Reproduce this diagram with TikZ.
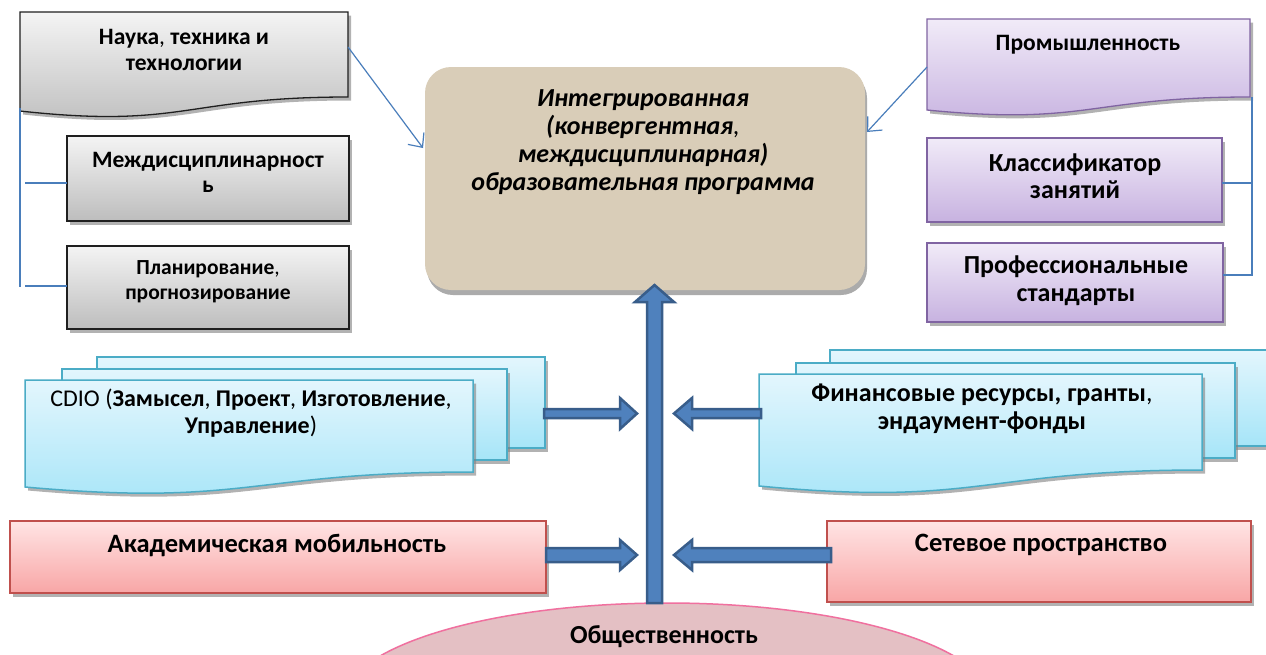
\documentclass[tikz,border=0pt]{standalone}
\usepackage{fontspec}
\setmainfont{Carlito}
\usetikzlibrary{arrows.meta,shadows}
\definecolor{linkblue}{HTML}{4A7EBB}
\definecolor{arrowfill}{HTML}{4F81BD}
\definecolor{arrowdark}{HTML}{385D8A}
\definecolor{grayline}{HTML}{1F1F1F}
\definecolor{graytop}{HTML}{F4F4F4}
\definecolor{graybot}{HTML}{BDBDBD}
\definecolor{purpline}{HTML}{8064A2}
\definecolor{purptop}{HTML}{F1EBF8}
\definecolor{purpbot}{HTML}{C7B2E0}
\definecolor{aqualine}{HTML}{4BACC6}
\definecolor{aquatop}{HTML}{E3F6FD}
\definecolor{aquabot}{HTML}{A6E5F8}
\definecolor{redline}{HTML}{C0504D}
\definecolor{redtop}{HTML}{FFE4E4}
\definecolor{redbot}{HTML}{F8A6A6}
\definecolor{beige}{HTML}{D9CDB8}
\definecolor{pinkfill}{HTML}{E4C0C4}
\definecolor{pinkline}{HTML}{F0709F}
\begin{document}
\begin{tikzpicture}[x=1pt,y=-1pt,
  shad/.style={drop shadow={shadow xshift=3pt,shadow yshift=-3.5pt,fill=black!50,opacity=.6}},
  graybox/.style={draw=grayline,line width=1.3pt,top color=graytop,bottom color=graybot,shad},
  purpbox/.style={draw=purpline,line width=1.3pt,top color=purptop,bottom color=purpbot,shad},
  aquabox/.style={draw=aqualine,line width=1.5pt,top color=aquatop,bottom color=aquabot,shad},
  redbox/.style={draw=redline,line width=1.3pt,top color=redtop,bottom color=redbot,shad},
  lbl/.style={font=\bfseries\fontsize{#1}{27}\selectfont,align=center,inner sep=0pt},
  link/.style={draw=linkblue,line width=1.2pt},
  linkarrow/.style={link,-{Straight Barb[length=11pt,width=20pt,line width=1.2pt]}},
  blockarrow/.style={fill=arrowfill,draw=arrowdark,line width=2.5pt,line join=miter}
]
\useasboundingbox[fill=white] (0,0) rectangle (1266,654);

% ---------- left gray group ----------
\path[graybox] (20,12) -- (348,12) -- (348,97) .. controls (184,97) and (184,129) .. (20,111) -- cycle;
\node[lbl=23.5,font=\bfseries\fontsize{23.5}{26}\selectfont] (nauka) at (184,50) {Наука{\mdseries ,} техника и\\технологии};
\path[graybox] (67,136) rectangle (349,221);
\node[lbl=23.5,font=\bfseries\fontsize{23.5}{25}\selectfont] (mezhd) at (208,172) {Междисциплинарност\\ь};
\path[graybox] (67,246) rectangle (349,329);
\node[lbl=21.5,font=\bfseries\fontsize{21.5}{25}\selectfont] (plan) at (208,282) {Планирование{\mdseries ,}\\прогнозирование};

\coordinate (lb-top) at (20,108);
\coordinate (lb-bot) at (20,287);
\coordinate (lb-m1) at (25,183);
\coordinate (lb-m2) at (25,286);
\coordinate (md-w) at (67,183);
\coordinate (pl-w) at (67,286);
\draw[link] (lb-top) -- (lb-bot);
\draw[link] (lb-m1) -- (md-w);
\draw[link] (lb-m2) -- (pl-w);

% ---------- right purple group ----------
\path[purpbox] (927,19) -- (1250,19) -- (1250,97) .. controls (1088,97) and (1088,126) .. (927,110) -- cycle;
\node[lbl=23.5] (prom) at (1088,45) {Промышленность};
\path[purpbox] (927,138) rectangle (1222,222);
\node[lbl=26] (klass) at (1075,176) {Классификатор\\занятий};
\path[purpbox] (927,243) rectangle (1223,322);
\node[lbl=26,font=\bfseries\fontsize{26}{28}\selectfont] (prof) at (1076,281) {Профессиональные\\стандарты};

\coordinate (rb-top) at (1252,97);
\coordinate (rb-bot) at (1252,275);
\coordinate (rb-m1) at (1252,183);
\coordinate (kl-e) at (1222,183);
\coordinate (pr-e) at (1223,275);
\draw[link] (rb-top) -- (rb-bot) -- (pr-e);
\draw[link] (rb-m1) -- (kl-e);

% ---------- central box ----------
\path[fill=beige,rounded corners=26pt,drop shadow={shadow xshift=2pt,shadow yshift=-5pt,fill=black!55,opacity=.6}] (425,67) rectangle (865,290);
\node[font=\bfseries\itshape\fontsize{26}{27.8}\selectfont,align=center,inner sep=0pt] (prog) at (643,142)
  {Интегрированная\\(конвергентная{\mdseries ,}\\междисциплинарная)\\образовательная программа};

% thin connectors
\coordinate (nauka-out) at (348,47);
\coordinate (prog-in-l) at (423,148);
\coordinate (prom-out) at (927,67);
\coordinate (prog-in-r) at (867,132);
\draw[linkarrow] (nauka-out) -- (prog-in-l);
\draw[linkarrow] (prom-out) -- (prog-in-r);

% ---------- CDIO stack ----------
\path[aquabox] (97,357) rectangle (545,448);
\path[aquabox] (62,369) rectangle (507,460);
\path[aquabox] (25,380) -- (473,380) -- (473,472) .. controls (249,472) and (249,507) .. (25,487) -- cycle;
\node[lbl=24] (cdio) at (251,413) {{\mdseries CDIO (}Замысел{\mdseries ,} Проект{\mdseries ,} Изготовление{\mdseries ,}\\Управление{\mdseries )}};

% ---------- finance stack ----------
\path[aquabox] (830,350) rectangle (1300,446);
\path[aquabox] (796,363) rectangle (1235,458);
\path[aquabox] (759,374) -- (1202,374) -- (1202,470) .. controls (980,470) and (980,507) .. (759,486) -- cycle;
\node[lbl=26,font=\bfseries\fontsize{26}{28}\selectfont] (fin) at (982,409) {Финансовые ресурсы, гранты{\mdseries ,}\\эндаумент-фонды};

% ---------- red boxes ----------
\path[redbox] (10,521) rectangle (546,593);
\node[lbl=26.5] (akad) at (277,545) {Академическая мобильность};
\path[redbox] (827,521) rectangle (1251,602);
\node[lbl=26.5] (set) at (1041,545) {Сетевое пространство};

% ---------- public ellipse ----------
\path[fill=pinkfill,draw=pinkline,line width=1.5pt] (667,703) ellipse [x radius=325,y radius=100];
\node[lbl=26] (obsh) at (664,637) {Общественность};

% ---------- block arrows ----------
\draw[blockarrow] (647,603) -- (647,302) -- (635,302) -- (654.5,285) -- (674,302) -- (662,302) -- (662,603) -- cycle;
\draw[blockarrow] (544,409) -- (620,409) -- (620,398) -- (637,413.5) -- (620,429) -- (620,418) -- (544,418) -- cycle;
\draw[blockarrow] (761,409) -- (692,409) -- (692,398) -- (674,413.5) -- (692,429) -- (692,418) -- (761,418) -- cycle;
\draw[blockarrow] (546,548) -- (620,548) -- (620,540) -- (637,555) -- (620,570) -- (620,562) -- (546,562) -- cycle;
\draw[blockarrow] (831,548) -- (692,548) -- (692,540) -- (674,555) -- (692,570) -- (692,562) -- (831,562) -- cycle;
\end{tikzpicture}
\end{document}
